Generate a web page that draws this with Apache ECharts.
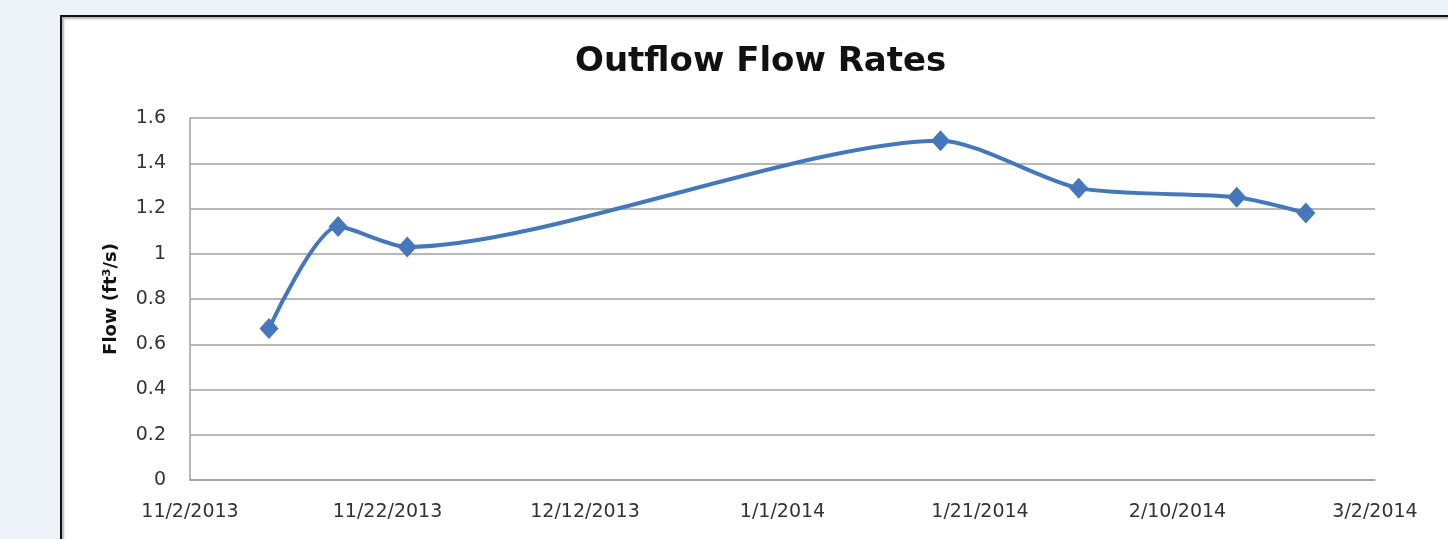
<!DOCTYPE html>
<html>
<head>
<meta charset="utf-8">
<script src="https://cdn.jsdelivr.net/npm/echarts@6/dist/echarts.min.js"></script>
<style>
  html, body { margin: 0; padding: 0; background: #eef3fa; overflow: hidden; }
  .frame {
    position: absolute; left: 60px; top: 15px; width: 1420px; height: 600px;
    background: #fff; border: 2px solid #111;
    box-shadow: inset 2px 2px 2px #b5b5b5;
  }
  #chart { position: absolute; left: 0; top: 0; width: 1448px; height: 539px; }
</style>
</head>
<body>
<div class="frame"></div>
<div id="chart"></div>
<script>
// sample dates and outflow (ft3/s)
const sampleDates = ['11/10/2013', '11/17/2013', '11/24/2013', '1/17/2014', '1/31/2014', '2/16/2014', '2/23/2014']
const flow = [0.67, 1.12, 1.03, 1.50, 1.29, 1.25, 1.18]

// x axis range and tick step (days)
const axisStart = '11/2/2013'
const axisEnd = '3/2/2014'
const tickDays = 20

const DAY = 86400000
const toMs = s => {
  const [m, d, y] = s.split('/').map(Number)
  return Date.UTC(y, m - 1, d)
}
const startMs = toMs(axisStart)
// days since axis start
const toDay = s => Math.round((toMs(s) - startMs) / DAY)
const fmtDay = v => {
  const dt = new Date(startMs + v * DAY)
  return (dt.getUTCMonth() + 1) + '/' + dt.getUTCDate() + '/' + dt.getUTCFullYear()
}

const chart = echarts.init(document.getElementById('chart'))

chart.setOption({
  animation: false,
  title: {
    text: 'Outflow Flow Rates',
    left: 570,
    top: 40,
    textStyle: { fontFamily: 'DejaVu Sans', fontWeight: 'bold', fontSize: 34, color: '#111' }
  },
  grid: { left: 190, right: 73, top: 118, bottom: 59 },
  xAxis: {
    type: 'value',
    min: 0,
    max: toDay(axisEnd),
    interval: tickDays,
    axisLine: { show: true, lineStyle: { color: '#a0a0a0', width: 1.5 } },
    axisTick: { show: false },
    splitLine: { show: false },
    axisLabel: {
      formatter: fmtDay,
      margin: 23,
      fontFamily: 'DejaVu Sans', fontSize: 19, color: '#333'
    }
  },
  yAxis: {
    type: 'value',
    min: 0,
    max: 1.6,
    interval: 0.2,
    name: 'Flow (ft³/s)',
    nameLocation: 'middle',
    nameGap: 70,
    nameTextStyle: { fontFamily: 'DejaVu Sans', fontWeight: 'bold', fontSize: 18, color: '#111' },
    axisLine: { show: true, lineStyle: { color: '#a0a0a0', width: 1.5 } },
    axisTick: { show: false },
    splitLine: { lineStyle: { color: '#a0a0a0', width: 1.5 } },
    axisLabel: {
      formatter: v => String(+v.toFixed(1)),
      margin: 24,
      fontFamily: 'DejaVu Sans', fontSize: 19, color: '#333'
    }
  },
  series: [{
    type: 'line',
    data: sampleDates.map((d, i) => [toDay(d), flow[i]]),
    smooth: 0.25,
    symbol: 'diamond',
    symbolSize: [19, 21],
    lineStyle: { color: '#4477bb', width: 4 },
    itemStyle: { color: '#4477bb' }
  }]
})
</script>
</body>
</html>
